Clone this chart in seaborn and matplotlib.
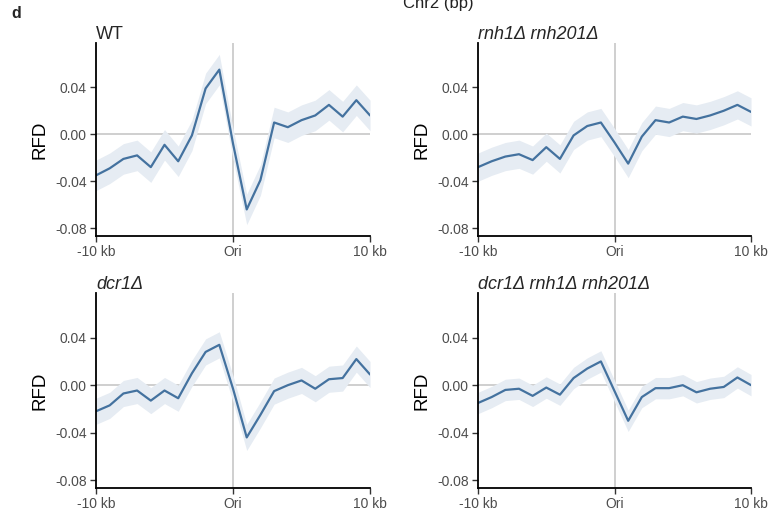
import numpy as np
import pandas as pd
import matplotlib
matplotlib.use("Agg")
import matplotlib.pyplot as plt
import seaborn as sns

# positions around the origin, in kb
pos_kb = list(range(-10, 11))

# RFD, one list per strain
rfd_wt = [-0.035, -0.029, -0.021, -0.018, -0.028, -0.009, -0.023, -0.001, 0.039, 0.055,
          -0.008, -0.064, -0.039, 0.010, 0.006, 0.012, 0.016, 0.025, 0.015, 0.029, 0.016]
rfd_rnh = [-0.028, -0.023, -0.019, -0.017, -0.022, -0.011, -0.021, -0.001, 0.007, 0.010,
           -0.007, -0.025, -0.002, 0.012, 0.010, 0.015, 0.013, 0.016, 0.020, 0.025, 0.019]
rfd_dcr = [-0.022, -0.017, -0.007, -0.0045, -0.013, -0.0045, -0.011, 0.010, 0.028, 0.034,
           -0.003, -0.044, -0.025, -0.005, 0.000, 0.004, -0.003, 0.005, 0.006, 0.022, 0.009]
rfd_dcr_rnh = [-0.015, -0.010, -0.004, -0.003, -0.009, -0.002, -0.008, 0.006, 0.014, 0.020,
               -0.005, -0.030, -0.010, -0.0025, -0.0025, 0.000, -0.006, -0.003, -0.0015, 0.0065, 0.000]

# half width of the shaded band per strain
band_half = [0.013, 0.012, 0.011, 0.009]

titles = ["WT", "rnh1Δ rnh201Δ", "dcr1Δ", "dcr1Δ rnh1Δ rnh201Δ"]
italic = [False, True, True, True]
series = [rfd_wt, rfd_rnh, rfd_dcr, rfd_dcr_rnh]

yticks = [-0.08, -0.04, 0.00, 0.04]
xticks = [-10, 0, 10]
xticklabels = ["-10 kb", "Ori", "10 kb"]

sns.set_style("white")
plt.rcParams["font.family"] = ["Liberation Sans", "DejaVu Sans"]

line_col = "#44729f"
band_col = "#e6ecf3"
grey_txt = "#4d4d4d"

fig = plt.figure(figsize=(7.83, 5.14), dpi=100)

# axes boxes [left, bottom, width, height] in figure fractions
boxes = [[0.1226, 0.5409, 0.3500, 0.3755],
         [0.6105, 0.5409, 0.3487, 0.3755],
         [0.1226, 0.0506, 0.3500, 0.3795],
         [0.6105, 0.0506, 0.3487, 0.3795]]

for box, title, it, vals, hw in zip(boxes, titles, italic, series, band_half):
    ax = fig.add_axes(box)
    df = pd.DataFrame({"pos": pos_kb, "rfd": vals})
    v = np.array(vals)
    ax.axhline(0, color="#cccccc", lw=1.3, zorder=0)
    ax.axvline(0, color="#cccccc", lw=1.3, zorder=0)
    ax.fill_between(df["pos"], v - hw, v + hw, color=band_col, lw=0, zorder=1)
    sns.lineplot(data=df, x="pos", y="rfd", ax=ax, color=line_col, lw=1.6, zorder=2)

    ax.set_xlim(-10, 10)
    ax.set_ylim(-0.0866, 0.0777)
    ax.set_xticks(xticks)
    ax.set_xticklabels(xticklabels)
    ax.set_yticks(yticks)
    ax.set_yticklabels([f"{t:.2f}" for t in yticks])
    ax.tick_params(axis="both", colors="#333333", labelcolor=grey_txt, labelsize=10,
                   length=4, width=1, direction="out", left=True, bottom=True, pad=2.5)
    ax.set_xlabel("")
    ax.set_ylabel("RFD", fontsize=13.5, color="black", labelpad=5)
    sns.despine(ax=ax)
    for s in ["left", "bottom"]:
        ax.spines[s].set_color("black")
        ax.spines[s].set_linewidth(1.3)
    ax.set_title(title, loc="left", fontsize=13, style="italic" if it else "normal", pad=3, x=0.0)

fig.text(0.015, 0.988, "d", fontsize=11.5, fontweight="bold", va="top")
fig.text(0.560, 1 - 8 / 514, "Chr2 (bp)", fontsize=12, ha="center", va="baseline", color="#222222")

fig.savefig("out.png", dpi=100)
